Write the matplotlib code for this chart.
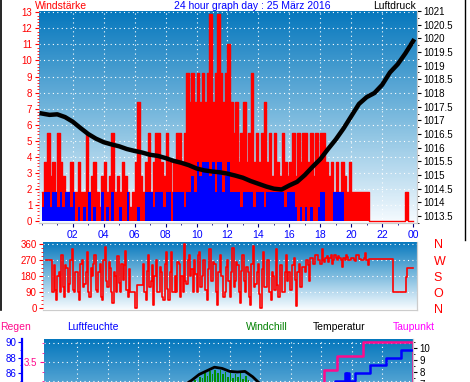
import matplotlib.pyplot as plt
import numpy as np
from matplotlib.colors import LinearSegmentedColormap
from matplotlib.lines import Line2D
from matplotlib.ticker import MultipleLocator, FormatStrFormatter

plt.rcParams['font.family'] = ['Liberation Sans', 'DejaVu Sans']

hour_ticks = [2, 4, 6, 8, 10, 12, 14, 16, 18, 20, 22, 24]
hour_labels = ['02', '04', '06', '08', '10', '12', '14', '16', '18', '20', '22', '00']

# wind speed, 10 min samples (gust red, average blue)
gust = [1.8, 3.7, 5.5, 2.8, 3.7, 1.8,
        5.5, 3.7, 2.8, 1.8, 1.8, 3.7,
        1.8, 1.8, 3.7, 1.8, 1.8, 5.5,
        1.8, 2.8, 3.7, 1.8, 0.9, 2.8,
        3.7, 1.8, 2.8, 5.5, 1.8, 2.8,
        1.8, 3.7, 2.8, 1.8, 0.9, 1.8,
        3.7, 7.4, 2.8, 1.8, 3.7, 5.5,
        1.8, 3.7, 5.5, 5.5, 3.7, 2.8,
        5.5, 3.7, 1.8, 3.7, 5.5, 5.5,
        3.7, 5.5, 9.2, 7.4, 9.2, 7.4,
        9.2, 7.4, 9.2, 7.4, 9.2, 12.9,
        7.4, 9.2, 12.9, 9.2, 7.4, 9.2,
        11.0, 7.4, 5.5, 7.4, 3.7, 5.5,
        7.4, 3.7, 5.5, 9.2, 3.7, 5.5,
        3.7, 5.5, 7.4, 3.7, 5.5, 2.8,
        5.5, 3.7, 2.8, 5.5, 3.7, 2.8,
        3.7, 5.5, 2.8, 5.5, 3.7, 5.5,
        5.5, 3.7, 5.5, 2.8, 5.5, 3.7,
        5.5, 5.5, 3.7, 2.8, 3.7, 1.8,
        3.7, 1.8, 3.7, 2.8, 1.8, 3.7,
        1.8, 1.8, 1.8, 1.8, 1.8, 1.8,
        1.8, 0, 0, 0, 0, 0,
        0, 0, 0, 0, 0, 0,
        0, 0, 0, 1.8, 0, 0]
avg = [0.9, 1.8, 1.8, 0.9, 1.8, 1.8,
       0.9, 1.8, 0.9, 1.8, 1.8, 0.9,
       1.8, 0, 0.9, 0, 0.9, 0,
       1.8, 0, 0.9, 0, 0, 1.8,
       0, 0.9, 0, 1.8, 0, 0,
       0.9, 0, 0, 1.8, 0, 0,
       0, 0.9, 0, 0, 1.8, 1.8,
       1.8, 0.9, 1.8, 1.8, 1.8, 0.9,
       1.8, 1.8, 0, 1.8, 1.8, 1.8,
       1.8, 0.9, 1.8, 1.8, 2.8, 1.8,
       3.7, 2.8, 3.7, 3.7, 3.7, 2.8,
       3.7, 1.8, 3.7, 3.7, 1.8, 2.8,
       3.7, 1.8, 1.8, 1.8, 1.8, 0.9,
       1.8, 1.8, 1.8, 1.8, 0.9, 1.8,
       1.8, 1.8, 0.9, 1.8, 1.8, 1.8,
       1.8, 1.8, 1.8, 1.8, 0.9, 1.8,
       1.8, 1.8, 0.9, 0, 0.9, 0,
       0.9, 0, 0.9, 0, 0, 0.9,
       1.8, 1.8, 0, 0, 0, 1.8,
       1.8, 1.8, 1.8, 0, 0, 0,
       0, 0, 0, 0, 0, 0,
       0, 0, 0, 0, 0, 0,
       0, 0, 0, 0, 0, 0,
       0, 0, 0, 0, 0, 0]

# air pressure (hPa), every 30 min
pressure = [1017.25, 1017.2, 1017.22, 1017.12, 1016.95, 1016.72, 1016.5, 1016.33,
            1016.2, 1016.12, 1016.05, 1015.95, 1015.88, 1015.82, 1015.74, 1015.7,
            1015.62, 1015.52, 1015.45, 1015.36, 1015.24, 1015.17, 1015.13, 1015.1,
            1015.05, 1014.98, 1014.9, 1014.78, 1014.68, 1014.58, 1014.5, 1014.47,
            1014.62, 1014.75, 1015.0, 1015.3, 1015.58, 1015.95, 1016.3, 1016.7,
            1017.15, 1017.6, 1017.85, 1018.0, 1018.3, 1018.75, 1019.05, 1019.45,
            1019.9]

# wind direction (deg), 5 min samples, one row per hour
wind_dir = [270, 270, 270, 270, 270, 90, 240, 100, 45, 180, 200, 90,
            300, 120, 60, 240, 225, 90, 135, 270, 330, 100, 90, 200,
            200, 90, 45, 250, 270, 120, 135, 200, 315, 90, 60, 225,
            180, 250, 300, 100, 90, 200, 250, 60, 45, 270, 345, 150,
            120, 260, 225, 90, 30, 200, 180, 90, 290, 140, 90, 250,
            160, 240, 320, 100, 60, 220, 90, 90, 90, 90, 0, 130,
            130, 130, 130, 130, 250, 90, 45, 210, 300, 120, 150, 240,
            20, 180, 270, 90, 90, 230, 200, 60, 45, 250, 315, 110,
            45, 200, 315, 90, 90, 180, 90, 260, 250, 60, 180, 90,
            360, 150, 135, 270, 300, 180, 220, 90, 270, 190, 90, 300,
            315, 120, 180, 270, 270, 100, 45, 220, 330, 150, 150, 260,
            250, 90, 20, 200, 300, 180, 180, 60, 90, 230, 270, 150,
            60, 200, 340, 120, 150, 260, 240, 90, 30, 210, 300, 150,
            90, 230, 200, 60, 20, 250, 350, 120, 135, 200, 250, 80,
            0, 220, 315, 120, 120, 270, 270, 90, 45, 200, 180, 100,
            330, 130, 60, 240, 240, 90, 90, 200, 300, 150, 200, 100,
            100, 240, 280, 160, 10, 200, 250, 120, 120, 230, 230, 200,
            270, 240, 150, 280, 280, 250, 245, 300, 300, 270, 270, 250,
            330, 270, 260, 280, 290, 260, 280, 300, 250, 270, 300, 280,
            270, 290, 280, 270, 230, 280, 270, 300, 285, 270, 270, 280,
            280, 270, 265, 300, 300, 275, 275, 270, 270, 280, 310, 270,
            240, 275, 275, 275, 275, 275, 275, 275, 275, 275, 275, 275,
            275, 275, 275, 275, 275, 275, 275, 275, 90, 90, 90, 90,
            90, 90, 90, 90, 90, 90, 175, 225, 225, 225, 225, 225]
dir_labels = ['N', 'O', 'S', 'W', 'N']

# bottom panel, only its upper part is in the picture
temp = [5.6, 5.5, 5.4, 5.3, 5.2, 5.1, 5.0, 5.0, 4.9, 4.9, 4.8, 4.8, 4.9, 5.1,
        5.4, 5.8, 6.2, 6.6, 6.9, 7.3, 7.8, 8.1, 8.4, 8.3, 8.05, 8.0, 8.05, 7.6,
        7.0, 6.8, 6.6, 6.5, 6.4, 6.3, 6.2, 6.1, 6.0, 5.9, 5.8, 5.7, 5.6, 5.5,
        5.4, 5.3, 5.2, 5.1, 5.0, 4.9, 4.8]
wc_start = 9.5
windchill = [6.9, 7.3, 7.2, 7.6, 7.5, 7.9, 7.7, 8.1, 7.8, 8.2, 7.9, 8.2,
             7.8, 8.0, 7.6, 7.9, 7.5, 7.8, 7.6, 7.9, 7.4, 7.7, 7.3, 7.0]
hum_hours = [0, 6, 12, 17, 18.9, 19.55, 19.62, 19.7, 19.78, 20.2, 21.2, 22.2, 23.2, 24]
humidity = [82, 83, 75, 80, 85, 86, 85, 86, 85, 86, 87, 88, 89, 89]
rain_hours = [0, 18.17, 19.0, 20.7, 24, 24]
rain = [3.2, 3.39, 3.58, 3.76, 3.76, 2.0]

W, H = 470, 382
fig = plt.figure(figsize=(W / 100, H / 100), dpi=100)


def rect(l, t, r, b):
    return [l / W, 1 - b / H, (r - l) / W, (b - t) / H]


bg = LinearSegmentedColormap.from_list('bg', ['#0577bd', '#7bbade', '#f6fbff'])


def gradient(ax):
    ax.imshow(np.linspace(0, 1, 200).reshape(-1, 1), cmap=bg, aspect='auto',
              extent=[0, 1, 0, 1], transform=ax.transAxes, zorder=0)


dots = dict(color='white', linestyle=(0, (1, 3)), linewidth=0.8, zorder=1)
grey = '#cccccc'

# ---- top: wind speed + pressure
ax1 = fig.add_axes(rect(38.5, 10.7, 417, 223.3))
gradient(ax1)
t10 = np.arange(len(gust) + 1) / 6
ax1.fill_between(t10, gust + [gust[-1]], step='post', color='red', lw=0, zorder=2)
ax1.step(t10, gust + [gust[-1]], where='post', color='red', lw=1, zorder=2)
ax1.fill_between(t10, avg + [avg[-1]], step='post', color='blue', lw=0, zorder=3)
for h in range(2, 24, 2):
    ax1.axvline(h, **dots)
for w in range(1, 14):
    ax1.axhline(w, **dots)
ax1.set_xlim(-0.213, 24.25)
ax1.set_ylim(-0.14, 13.1)
ax1.yaxis.set_major_locator(MultipleLocator(1))
ax1.yaxis.set_minor_locator(MultipleLocator(0.2))
ax1.set_xticks(hour_ticks)
ax1.set_xticklabels(hour_labels)
ax1.xaxis.set_minor_locator(MultipleLocator(1))
ax1.tick_params(axis='y', which='both', colors='red', labelsize=7, pad=1.5)
ax1.tick_params(axis='y', which='major', length=3)
ax1.tick_params(axis='y', which='minor', length=1.5)
ax1.tick_params(axis='x', which='both', color='#000080', labelcolor='blue',
                labelsize=7.5, pad=1.5)
ax1.tick_params(axis='x', which='major', length=3)
ax1.tick_params(axis='x', which='minor', length=1.5)

axp = ax1.twinx()
axp.plot(np.arange(len(pressure)) * 0.5, pressure, color='black', lw=3.2, zorder=4)
axp.set_ylim(1013.234, 1021.01)
axp.yaxis.set_major_locator(MultipleLocator(0.5))
axp.yaxis.set_major_formatter(FormatStrFormatter('%g'))
axp.yaxis.set_minor_locator(MultipleLocator(0.25))
axp.tick_params(axis='y', which='both', colors='black', labelsize=7, pad=1.5)
axp.tick_params(axis='y', which='major', length=3)
axp.tick_params(axis='y', which='minor', length=1.5)
for a in (ax1, axp):
    a.spines['top'].set_visible(False)
    a.spines['left'].set_visible(False)
    a.spines['bottom'].set_color(grey)
    a.spines['right'].set_color(grey)

fig.text(35 / W, 1 - 6 / H, 'Windstärke', color='red', fontsize=7.5, va='center')
fig.text(252 / W, 1 - 6 / H, '24 hour graph day : 25 März 2016', color='blue',
         fontsize=7.5, va='center', ha='center')
fig.text(416 / W, 1 - 6 / H, 'Luftdruck', color='black', fontsize=7.5,
         va='center', ha='right')

# ---- middle: wind direction
ax2 = fig.add_axes(rect(43, 242, 417, 309.5))
gradient(ax2)
t_dir = np.arange(len(wind_dir) + 1) / 12
ax2.plot(t_dir, wind_dir + [wind_dir[-1]], drawstyle='steps-post', color='red',
         lw=1.2, zorder=2)
for d in [90, 180, 270, 360]:
    ax2.axhline(d, **dots)
ax2.set_xlim(-0.196, 24.23)
ax2.set_ylim(-7.5, 371)
ax2.set_yticks([0, 90, 180, 270, 360])
ax2.yaxis.set_minor_locator(MultipleLocator(22.5))
ax2.tick_params(axis='x', which='both', bottom=False, labelbottom=False)
ax2.tick_params(axis='y', which='both', colors='red', labelsize=7, pad=1.5)
ax2.tick_params(axis='y', which='major', length=3)
ax2.tick_params(axis='y', which='minor', length=1.5)
ax2r = ax2.twinx()
ax2r.set_ylim(-7.5, 371)
ax2r.set_yticks([0, 90, 180, 270, 360])
ax2r.set_yticklabels(dir_labels)
ax2r.tick_params(axis='y', length=0, pad=12, colors='red', labelsize=9)
for a in (ax2, ax2r):
    a.spines['top'].set_visible(False)
    a.spines['left'].set_visible(False)
    a.spines['bottom'].set_color(grey)
    a.spines['right'].set_color(grey)

# ---- bottom: rain / humidity / temperature (cut off by the picture)
ax3 = fig.add_axes(rect(43.5, 339.3, 413, 470))
gradient(ax3)
ax3.plot(rain_hours, rain, drawstyle='steps-post', color='#ff0a8c', lw=1.8, zorder=3)
for h in range(2, 24, 2):
    ax3.axvline(h, **dots)
for r in np.arange(2.25, 3.8, 0.25):
    ax3.axhline(r, **dots)
ax3.set_xlim(-0.196, 24.0)
ax3.set_ylim(2.079, 3.799)
ax3.yaxis.set_major_locator(MultipleLocator(0.5))
ax3.yaxis.set_minor_locator(MultipleLocator(0.125))
ax3.yaxis.set_major_formatter(FormatStrFormatter('%.1f'))
ax3.tick_params(axis='x', which='both', bottom=False, labelbottom=False)
ax3.tick_params(axis='y', which='both', colors='#ff0a8c', labelsize=7, pad=1.5)
ax3.tick_params(axis='y', which='major', length=3)
ax3.tick_params(axis='y', which='minor', length=1.5)

ax3h = ax3.twinx()
ax3h.plot(hum_hours, humidity, drawstyle='steps-post', color='blue', lw=1.8, zorder=3)
ax3h.set_ylim(73.48, 90.35)
ax3h.yaxis.tick_left()
ax3h.yaxis.set_major_locator(MultipleLocator(2))
ax3h.yaxis.set_minor_locator(MultipleLocator(1))
ax3h.spines['left'].set_visible(True)
ax3h.spines['left'].set_position(('outward', 15.5))
ax3h.spines['left'].set_color('blue')
ax3h.spines['left'].set_linewidth(1.6)
ax3h.tick_params(axis='y', which='both', colors='blue', labelsize=7, pad=1)
ax3h.tick_params(axis='y', which='major', length=3)
ax3h.tick_params(axis='y', which='minor', length=1.5)

ax3t = ax3.twinx()
wc_t = wc_start + np.arange(len(windchill)) / 6
ax3t.bar(wc_t, windchill, width=0.1, align='edge', color='#009000', zorder=2)
ax3t.plot(np.arange(len(temp)) * 0.5, temp, color='black', lw=2, zorder=3)
ax3t.set_ylim(-0.167, 10.725)
ax3t.yaxis.set_major_locator(MultipleLocator(1))
ax3t.yaxis.set_minor_locator(MultipleLocator(0.5))
ax3t.tick_params(axis='y', which='both', colors='black', labelsize=7, pad=1.5)
ax3t.tick_params(axis='y', which='major', length=3)
ax3t.tick_params(axis='y', which='minor', length=1.5)
for a in (ax3, ax3h, ax3t):
    a.spines['top'].set_visible(False)
    a.spines['right'].set_color(grey)
    a.spines['bottom'].set_visible(False)
ax3.spines['left'].set_visible(False)
ax3t.spines['left'].set_visible(False)

y_hdr = 1 - 327 / H
fig.text(0.5 / W, y_hdr, 'Regen', color='#ff0a8c', fontsize=7.5, va='center')
fig.text(67 / W, y_hdr, 'Luftfeuchte', color='blue', fontsize=7.5, va='center')
fig.text(246 / W, y_hdr, 'Windchill', color='green', fontsize=7.5, va='center')
fig.text(313 / W, y_hdr, 'Temperatur', color='black', fontsize=7.5, va='center')
fig.text(393 / W, y_hdr, 'Taupunkt', color='#ff00ff', fontsize=7.5, va='center')

# frame lines at the picture edges
fig.add_artist(Line2D([1 / W, 1 / W], [1 - 310 / H, 1], color='black', lw=1.2))
fig.add_artist(Line2D([464.5 / W, 464.5 / W], [1 - 240 / H, 1], color='black', lw=1))

fig.savefig('out.png', dpi=100)
